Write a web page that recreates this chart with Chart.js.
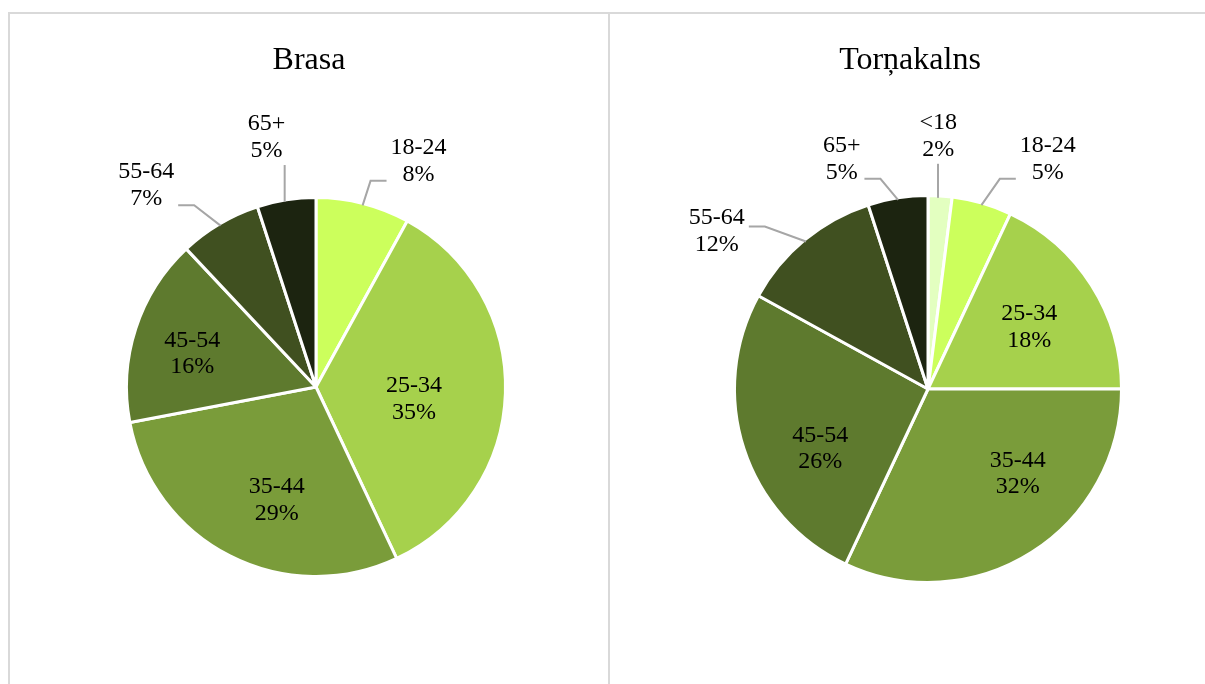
<!DOCTYPE html>
<html>
<head>
<meta charset="utf-8">
<script src="https://cdn.jsdelivr.net/npm/chart.js@4/dist/chart.umd.min.js"></script>
<style>
  body { margin: 0; background: #fff; overflow: hidden; }
  .panel { position: absolute; top: 12px; height: 700px; border-top: 2px solid #d9d9d9; }
  #leftPanel { left: 8px; width: 598px; border-left: 2px solid #d9d9d9; border-right: 2px solid #d9d9d9; }
  #rightPanel { left: 610px; width: 620px; }
  canvas { position: absolute; top: 0; left: 0; }
</style>
</head>
<body>
<div class="panel" id="leftPanel"><canvas id="brasa" width="598" height="670"></canvas></div>
<div class="panel" id="rightPanel"><canvas id="tornakalns" width="600" height="670"></canvas></div>
<script>
// age groups and shares (%)
const brasaLabels = ['18-24', '25-34', '35-44', '45-54', '55-64', '65+'];
const brasaValues = [8, 35, 29, 16, 7, 5];

const tornLabels = ['<18', '18-24', '25-34', '35-44', '45-54', '55-64', '65+'];
const tornValues = [2, 5, 18, 32, 26, 12, 5];

const ageColors = {
    '<18': '#e3ffc0',
    '18-24': '#ccff5c',
    '25-34': '#a6d14c',
    '35-44': '#7a9c3a',
    '45-54': '#5e7a2e',
    '55-64': '#405020',
    '65+': '#1c2410'
};

// label placement: [radius factor, angle tweak in degrees]
const brasaLabelPos = [[1.32, 9.8], [0.52, 4], [0.62, -7.5], [0.68, -2], [1.40, -9.2], [1.355, -2.1]];
const tornLabelPos = [[1.32, -1.3], [1.35, 11.1], [0.62, 0], [0.63, -15], [0.63, -10], [1.37, -13.2], [1.28, -11.4]];

const serif = '"Times New Roman", "Liberation Serif", serif';

const pieLabels = {
    id: 'pieLabels',
    afterDatasetsDraw(chart, args, opts) {
        const ctx = chart.ctx;
        const ds = chart.data.datasets[0];
        const total = ds.data.reduce((a, b) => a + b, 0);
        const meta = chart.getDatasetMeta(0);

        ctx.save();
        // title
        ctx.font = '32px ' + serif;
        ctx.fillStyle = '#000';
        ctx.textAlign = 'center';
        ctx.textBaseline = 'middle';
        ctx.fillText(opts.title, chart.width / 2, 47);

        ctx.font = '24px ' + serif;
        meta.data.forEach((arc, i) => {
            const p = arc.getProps(['x', 'y', 'startAngle', 'endAngle', 'outerRadius'], true);
            const k = opts.placement[i][0];
            const mid = (p.startAngle + p.endAngle) / 2;
            const a = mid + opts.placement[i][1] * Math.PI / 180;
            const lx = p.x + Math.cos(a) * p.outerRadius * k;
            const ly = p.y + Math.sin(a) * p.outerRadius * k;
            const lines = [chart.data.labels[i], Math.round(ds.data[i] / total * 100) + '%'];

            if (k > 1) {
                const ex = p.x + Math.cos(mid) * (p.outerRadius - 2);
                const ey = p.y + Math.sin(mid) * (p.outerRadius - 2);
                ctx.strokeStyle = '#a6a6a6';
                ctx.lineWidth = 2;
                ctx.beginPath();
                if (Math.abs(lx - ex) < 25) {
                    const vx = ex - 2;
                    ctx.moveTo(vx, ey);
                    ctx.lineTo(vx, ly + 30);
                } else {
                    const hy = Math.min(ly + 22, ey - 15);
                    const side = lx > ex ? 1 : -1;
                    const hw = Math.max(...lines.map(t => ctx.measureText(t).width)) / 2;
                    const endX = lx - side * (hw + 4);
                    const elbowX = endX - side * 16;
                    ctx.moveTo(ex, ey);
                    ctx.lineTo(elbowX, hy);
                    ctx.lineTo(endX, hy);
                }
                ctx.stroke();
            }

            ctx.fillStyle = '#000';
            ctx.fillText(lines[0], lx, ly - 11);
            ctx.fillText(lines[1], lx, ly + 15.5);
        });
        ctx.restore();
    }
};

function makePie(id, labels, values, placement, title, cx, cy, radius) {
    const canvas = document.getElementById(id);
    const w = canvas.width, h = canvas.height, half = 200;
    new Chart(canvas, {
        type: 'pie',
        data: {
            labels: labels,
            datasets: [{
                data: values,
                backgroundColor: labels.map(l => ageColors[l]),
                borderColor: '#ffffff',
                borderWidth: 3
            }]
        },
        options: {
            responsive: false,
            animation: false,
            events: [],
            radius: radius,
            layout: {
                padding: { left: cx - half, right: w - cx - half, top: cy - half, bottom: h - cy - half }
            },
            plugins: {
                legend: { display: false },
                tooltip: { enabled: false },
                pieLabels: { title: title, placement: placement }
            }
        },
        plugins: [pieLabels]
    });
}

makePie('brasa', brasaLabels, brasaValues, brasaLabelPos, 'Brasa', 306, 373, 189.5);
makePie('tornakalns', tornLabels, tornValues, tornLabelPos, 'Torņakalns', 318, 375, 193.5);
</script>
</body>
</html>
